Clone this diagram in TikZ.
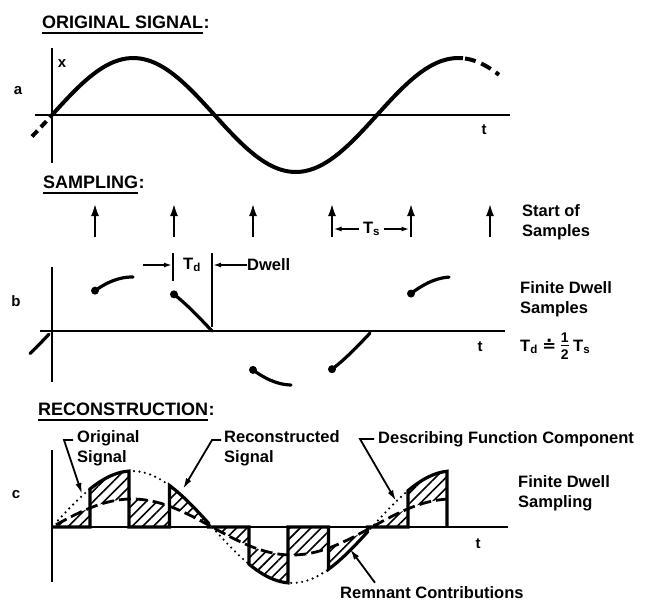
\documentclass[tikz,border=0pt]{standalone}
\usepackage{fontspec}
\setmainfont{Liberation Sans}
\newfontfamily\symfont{DejaVu Sans}
\usetikzlibrary{arrows.meta, positioning, calc, patterns.meta}

\tikzset{
  hdg/.style={font=\bfseries\fontsize{18}{21}\selectfont, inner sep=0pt, anchor=base west},
  lbl/.style={inner sep=0pt, align=left, anchor=west},
  tiny/.style={font=\bfseries\fontsize{15}{16}\selectfont, inner sep=0pt},
  axis/.style={line width=1.8pt},
  wave/.style={line width=4pt, line join=round},
  seg/.style={line width=3.2pt, line cap=round},
  smparrow/.style={line width=2.6pt, -{Latex[length=13pt,width=8pt]}},
  dimarrow/.style={line width=1.6pt, -{Latex[length=8pt,width=5pt]}},
  leader/.style={line width=1.8pt, -{Latex[length=11pt,width=6pt]}},
  dfline/.style={line width=2.8pt, dash pattern=on 12pt off 5pt},
  origdots/.style={line width=2.4pt, line cap=round, dash pattern=on 0pt off 5.5pt},
  hatch/.style={pattern={Lines[angle=45,distance=7.5pt,line width=1.6pt]}},
}

\begin{document}
\begin{tikzpicture}[
    x=1pt, y=-1pt,
    >=Latex,
    font=\bfseries\fontsize{16.5}{20}\selectfont,
    declare function={
      sa(\t)=-57*sin(\t/325*360);
      sb(\t)=-54*sin(\t/320*360);
      sc(\t)=-56*sin(\t/320*360);
      dc(\t)=-28*sin(\t/320*360);
    }
]
\useasboundingbox (0,0) rectangle (646,616);

% =========================================================
% a: original signal
% =========================================================
\node[hdg] (hdA) at (42,28) {ORIGINAL SIGNAL};
\node[hdg] (hdAc) at (hdA.base east) {:};
\draw[line width=2.2pt] ($(hdA.base west)+(0,5)$) -- ($(hdA.base east)+(0,5)$);
\node[tiny] (pa) at (18,91) {a};

\begin{scope}[shift={(52,115)}]

% axes
\draw[axis] (0,-67) -- (0,48);
\draw[axis] (-17,0) -- (458,0);

% signal
\draw[wave] plot[domain=0:411, samples=100, smooth] (\x,{sa(\x)});
\draw[wave, dash pattern=on 11pt off 6pt] plot[domain=413:447, samples=15, smooth] (\x,{sa(\x)});
\draw[wave, dash pattern=on 8pt off 5pt] plot[domain=-20:-1, samples=5] (\x,{sa(\x)});

\node[tiny] (xlab) at (10,-51) {x};
\node[tiny] (tlabA) at (432,15) {t};

\end{scope}

% =========================================================
% b: sampling
% =========================================================
\node[hdg] (hdB) at (43,188) {SAMPLING};
\node[hdg] (hdBc) at (hdB.base east) {:};
\draw[line width=2.2pt] ($(hdB.base west)+(0,5)$) -- ($(hdB.base east)+(0,5)$);
\node[tiny] (pb) at (16,301) {b};

\begin{scope}[shift={(52,331)}]

% axes
\draw[axis] (0,-64) -- (0,51);
\draw[axis] (-12,0) -- (453,0);

% start of samples
\foreach \k in {0,...,5}
  \draw[smparrow] ({43+79*\k},-94) -- ({43+79*\k},-128);

% Ts
\node[inner sep=4pt] (tsl) at (319.5,-102) {T\textsubscript{s}};
\draw[dimarrow] (tsl.west) -- (281.5,-102);
\draw[dimarrow] (tsl.east) -- (357.5,-102);

% dwell samples
\draw[seg] plot[domain=-22:-3, samples=5] (\x,{sb(\x)});
\foreach \k in {0,...,4} {
  \pgfmathsetmacro\ta{43+79*\k}
  \pgfmathsetmacro\tb{\ta+38}
  \draw[seg] plot[domain=\ta:\tb, samples=12, smooth] (\x,{sb(\x)});
  \fill (\ta,{sb(\ta)}) circle (4pt);
}

% Td and dwell
\draw[line width=1.6pt] (121,-78) -- (121,-50);
\draw[line width=1.6pt] (160,-78) -- (160,-4);
\node[inner sep=2pt] (tdl) at (140,-66) {T\textsubscript{d}};
\node[lbl] (dwl) at (195,-66) {Dwell};
\draw[dimarrow] (91,-66) -- (120,-66);
\draw[dimarrow] (dwl.west) -- (161,-66);

\node[tiny] (tlabB) at (428,16) {t};

\end{scope}

\node[lbl] (startlbl) at (522,222) {Start of\\Samples};
\node[lbl] (fdslbl) at (520,299) {Finite Dwell\\Samples};
\node[lbl] (tdeq) at (520,347) {T\textsubscript{d} {\symfont ≐} \begin{tabular}{@{}c@{}}\fontsize{14}{13}\selectfont 1\\[-3pt]\hline\fontsize{14}{15}\selectfont 2\end{tabular} T\textsubscript{s}};

% =========================================================
% c: reconstruction
% =========================================================
\node[hdg] (hdC) at (38,415) {RECONSTRUCTION};
\node[hdg] (hdCc) at (hdC.base east) {:};
\draw[line width=2.2pt] ($(hdC.base west)+(0,5)$) -- ($(hdC.base east)+(0,5)$);
\node[tiny] (pc) at (16,495) {c};

\begin{scope}[shift={(52,527)}]

% remnant (hatched)
\fill[hatch] (0,0)
  \foreach \k [evaluate=\k as \ta using 38+79.5*\k, evaluate=\k as \tb using 77+79.5*\k] in {0,...,4}
  { -- (\ta,0) -- plot[domain=\ta:\tb, samples=12] (\x,{sc(\x)}) -- (\tb,0) }
  -- plot[domain=395:0, samples=80] (\x,{dc(\x)}) -- cycle;

% original signal
\draw[origdots] plot[domain=6:395, samples=80, smooth] (\x,{sc(\x)});

% describing function component
\draw[dfline] plot[domain=4:395, samples=80, smooth] (\x,{dc(\x)});

% reconstructed signal
\draw[seg, line cap=butt] (0,0)
  \foreach \k [evaluate=\k as \ta using 38+79.5*\k, evaluate=\k as \tb using 77+79.5*\k] in {0,...,4}
  { -- (\ta,0) -- plot[domain=\ta:\tb, samples=12] (\x,{sc(\x)}) -- (\tb,0) }
  -- (395,0);

% axes
\draw[axis] (0,-77) -- (0,55);
\draw[axis, line width=2.4pt] (0,0) -- (456,0);

\node[tiny] (tlabC) at (426,17) {t};

\end{scope}

\node[lbl] (fdslbl2) at (518,493) {Finite Dwell\\Sampling};

% labels and leaders
\node[lbl] (origlbl) at (77,448) {Original\\Signal};
\node[lbl] (reclbl) at (224,448) {Reconstructed\\Signal};
\node[lbl] (dflbl) at (378,439) {Describing Function Component};
\node[lbl] (remlbl) at (340,593) {Remnant Contributions};

\coordinate (origtip) at (82,494);
\coordinate (rectip) at (183,489);
\coordinate (dftip) at (396,501);
\coordinate (remtip) at (350,549);

\draw[leader] ($(origlbl.north west)+(-4,10)$) -- ++(-9,0) -- (origtip);
\draw[leader] ($(reclbl.north west)+(-3,10)$) -- ++(-9,0) -- (rectip);
\draw[leader] ($(dflbl.west)+(-4,0)$) -- ++(-14,0) -- (dftip);
\draw[leader] ($(remlbl.north west)+(35,-4)$) -- (remtip);

\end{tikzpicture}
\end{document}
